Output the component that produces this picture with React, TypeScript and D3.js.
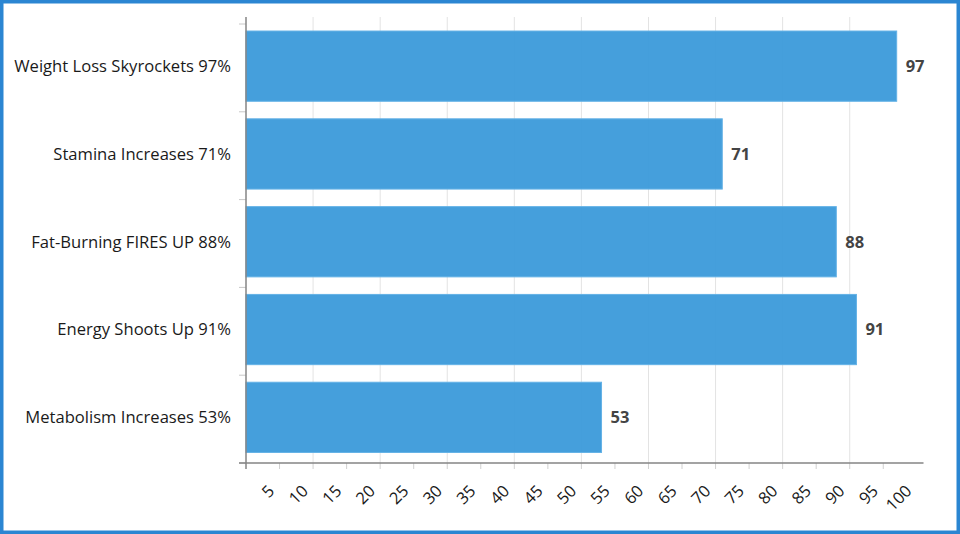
import React from "react";
import * as d3 from "d3";

const categories = [
  "Weight Loss Skyrockets 97%",
  "Stamina Increases 71%",
  "Fat-Burning FIRES UP 88%",
  "Energy Shoots Up 91%",
  "Metabolism Increases 53%",
];
const values = [97, 71, 88, 91, 53];
const tickValues = [5, 10, 15, 20, 25, 30, 35, 40, 45, 50, 55, 60, 65, 70, 75, 80, 85, 90, 95, 100];
const tickMarks = [5, 10, 15, 20, 25, 30, 35, 40, 45, 50, 55, 60, 65, 70, 75, 80, 85, 90, 95];
const gridValues = [10, 20, 30, 40, 50, 60, 70, 80, 90];

const W = 960;
const H = 534;
const font = "'Open Sans', 'DejaVu Sans', sans-serif";

export default function App() {
  const x = d3.scaleLinear().domain([0, 100]).range([246, 916.8]);
  const plotTop = 17;
  const plotBottom = 463;

  // bars
  const y = d3.scaleBand<string>()
    .domain(categories)
    .range([24, plotBottom])
    .paddingInner(0.2)
    .paddingOuter(0.1)
    .align(0.4);
  // band boundaries for the category ticks
  const yTicks = d3.scaleBand<string>().domain(categories).range([24, plotBottom]);
  const boundaries = [...categories.map((c) => yTicks(c)!), yTicks.range()[1]];

  return (
    <svg width={W} height={H} style={{ position: "absolute", left: 0, top: 0 }} fontFamily={font}>
      <rect x={0} y={0} width={W} height={H} fill="#fff" />

      {/* Gridlines */}
      {gridValues.map((v) => (
        <line key={v} x1={x(v)} x2={x(v)} y1={plotTop} y2={plotBottom} stroke="#e3e3e3" strokeWidth={1} />
      ))}

      {/* Bars */}
      {categories.map((c, i) => (
        <g key={c}>
          <rect
            x={x(0)}
            y={y(c)!}
            width={x(values[i]) - x(0)}
            height={y.bandwidth()}
            fill="#3d9bdb"
            fillOpacity={0.96}
            stroke="#64b2e6"
            strokeWidth={1}
          />
          <text
            x={x(values[i]) + 9}
            y={y(c)! + y.bandwidth() / 2}
            dy="0.35em"
            fontSize={16.5}
            fontWeight={700}
            fill="#444"
          >
            {values[i]}
          </text>
          <text
            x={231}
            y={y(c)! + y.bandwidth() / 2}
            dy="0.35em"
            textAnchor="end"
            fontSize={16.6}
            fill="#1a1a1a"
          >
            {c}
          </text>
        </g>
      ))}

      {/* Y axis */}
      {boundaries.map((b, i) => (
        <line key={i} x1={x(0) - 7} x2={x(0)} y1={b} y2={b} stroke="#c8c8c8" strokeWidth={1} />
      ))}
      <line x1={x(0)} x2={x(0)} y1={plotTop} y2={plotBottom + 6} stroke="#858585" strokeWidth={1.5} />

      {/* X axis */}
      {tickMarks.map((t) => (
        <line key={t} x1={x(t)} x2={x(t)} y1={plotBottom} y2={plotBottom + 6} stroke="#d0d0d0" strokeWidth={1} />
      ))}
      <line x1={x(0) - 7} x2={x(101)} y1={plotBottom} y2={plotBottom} stroke="#858585" strokeWidth={1.5} />
      {tickValues.map((t) => (
        <text
          key={t}
          transform={`translate(${x(t) - 4},492) rotate(-45)`}
          textAnchor="end"
          fontSize={16.5}
          fill="#1a1a1a"
        >
          {t}
        </text>
      ))}

      {/* Frame */}
      <rect x={1.75} y={1.75} width={W - 3.5} height={H - 3.5} fill="none" stroke="#2b86d2" strokeWidth={3.5} />
    </svg>
  );
}
